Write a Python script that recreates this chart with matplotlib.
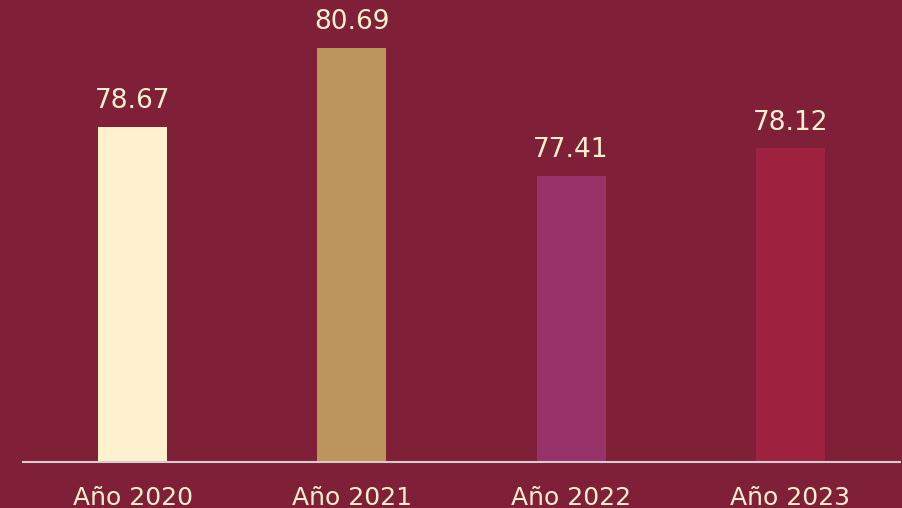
import matplotlib.pyplot as plt

# datos
years = ["Año 2020", "Año 2021", "Año 2022", "Año 2023"]
values = [78.67, 80.69, 77.41, 78.12]
colors = ["#FFF1CE", "#BC955C", "#98336A", "#9F2241"]

bg = "#7F1F38"
txt = "#FFF1CE"

fig = plt.figure(figsize=(9.03, 5.08), dpi=100, facecolor=bg)
ax = fig.add_axes([23 / 903, 46 / 508, 877 / 903, 462 / 508], facecolor=bg)

x = range(len(years))
bars = ax.bar(x, values, width=0.315, color=colors)

for xi, v in zip(x, values):
    ax.annotate(f"{v:.2f}", (xi, v), xytext=(0, 13.5), textcoords="offset points",
                ha="center", va="baseline", color=txt, fontsize=19)

ax.set_xlim(-0.5, 3.5)
ax.set_ylim(70.08, 70.08 + 462 / 39)

ax.set_xticks(list(x))
ax.set_xticklabels(years, color=txt, fontsize=18)
ax.tick_params(axis="x", length=0, pad=17)
ax.set_yticks([])

for s in ["top", "right", "left"]:
    ax.spines[s].set_visible(False)
ax.spines["bottom"].set_color("#D3CDCF")
ax.spines["bottom"].set_linewidth(1.5)

fig.savefig("out.png", dpi=100, facecolor=bg)
